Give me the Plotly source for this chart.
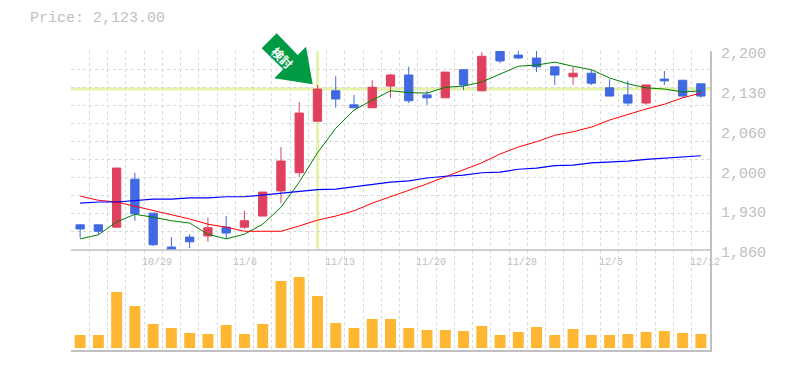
import plotly.graph_objects as go

idx = list(range(35))
date_positions = [4, 9, 14, 19, 24, 29, 34]
date_labels = ["10/29", "11/6", "11/13", "11/20", "11/28", "12/5", "12/12"]
price_ticks = [1860, 1928, 1996, 2064, 2132, 2200]
price_labels = ["1,860", "1,930", "2,000", "2,060", "2,130", "2,200"]

opens = [1903,1903,1899,1981,1923,1865,1882,1884,1899,1899,1918,1961,1992,2080,2132,2108,2103,2140,
         2159,2125,2120,2168,2132,2200,2193,2188,2173,2156,2162,2137,2125,2111,2152,2150,2144]
highs = [1904,1903,2000,1992,1923,1882,1887,1915,1918,1927,1959,2036,2113,2142,2157,2125,2150,2161,
         2173,2132,2164,2168,2198,2200,2202,2202,2173,2173,2168,2152,2149,2142,2166,2150,2144]
lows = [1881,1886,1899,1910,1867,1860,1863,1874,1879,1896,1918,1940,1985,2080,2103,2103,2103,2120,
        2111,2108,2120,2133,2132,2179,2186,2164,2142,2142,2142,2123,2106,2108,2142,2120,2120]
closes = [1896,1892,2000,1922,1869,1860,1874,1898,1889,1910,1959,2012,2094,2135,2118,2103,2138,2159,
          2115,2120,2164,2142,2191,2183,2188,2173,2159,2162,2145,2123,2111,2142,2149,2123,2123]
ma_short = [1879,1886,1908,1921,1916,1910,1906,1887,1879,1887,1904,1933,1976,2026,2068,2099,2116,2132,
            2129,2128,2138,2140,2147,2161,2174,2176,2181,2174,2168,2154,2144,2137,2135,2130,2132]
ma_mid = [1952,1945,1942,1935,1927,1920,1913,1904,1899,1892,1892,1892,1901,1911,1918,1927,1940,1951,
          1961,1973,1985,1997,2009,2024,2036,2045,2056,2062,2070,2082,2092,2101,2109,2120,2128]
ma_long = [1940,1942,1942,1944,1947,1947,1949,1949,1951,1951,1954,1957,1959,1963,1964,1968,1973,1976,
           1978,1983,1986,1988,1992,1993,1998,2000,2004,2005,2009,2010,2012,2015,2017,2019,2021]
volume = [13,13,56,42,24,20,15,14,23,14,24,67,71,52,25,20,29,29,20,18,18,17,22,13,16,21,13,19,13,13,14,16,17,15,14]

GREY = "#c0c0c0"
GRID = "#d8d8d8"
HILITE = "#e6f5a5"
RED = "#e0405e"
BLUE = "#4169e1"
MONO = "Liberation Mono"
# the page body has an 8px margin, so the figure is offset by that in the window
OFF = 8
L, R, T, B = 71 - OFF, 75, 51 - OFF, 20
W, H = 785 - OFF, 370 - OFF
PW, PH = W - L - R, H - T - B
SPLIT = 100 / PH


def px(x, y):
    return (x - OFF - L) / PW, (H - B - (y - OFF)) / PH


fig = go.Figure()
fig.add_trace(go.Bar(x=idx, y=volume, yaxis="y2", width=0.6, marker=dict(color="#ffb733", line_width=0), hoverinfo="skip"))
fig.add_trace(go.Candlestick(
    x=idx, open=opens, high=highs, low=lows, close=closes, whiskerwidth=0,
    increasing=dict(line=dict(color=RED, width=1), fillcolor=RED),
    decreasing=dict(line=dict(color=BLUE, width=1), fillcolor=BLUE),
))
for vals, col, w in [(ma_short, "#008000", 1), (ma_mid, "#ff0000", 1), (ma_long, "#0000ff", 1.2)]:
    fig.add_trace(go.Scatter(x=idx, y=vals, mode="lines", line=dict(color=col, width=w), hoverinfo="skip"))

shapes = [
    dict(type="line", xref="x", yref="y", x0=-0.5, x1=34.5, y0=closes[13], y1=closes[13],
         line=dict(color=HILITE, width=3), layer="below"),
    dict(type="line", xref="x", yref="y", x0=13, x1=13, y0=1862, y1=2200,
         line=dict(color=HILITE, width=3), layer="below"),
    dict(type="line", xref="paper", yref="paper", x0=0, x1=1, y0=SPLIT, y1=SPLIT,
         line=dict(color=GREY, width=1.5)),
]
arrow = [(261.7, 48.3), (276.7, 33.3), (297.7, 55), (306, 46.7), (312.7, 84.3), (274.3, 78.3), (283.3, 69.3)]
path = "M " + " L ".join("%.4f,%.4f" % px(x, y) for x, y in arrow) + " Z"
shapes.append(dict(type="path", xref="paper", yref="paper", path=path, fillcolor="#009944", line_width=0))

ann = [
    dict(xref="paper", yref="paper", x=px(29, 0)[0], y=px(0, 18)[1], xanchor="left", yanchor="middle",
         text="Price: 2,123.00", showarrow=False, font=dict(family=MONO, size=15, color=GREY), borderpad=0),
    dict(xref="paper", yref="paper", x=px(283, 0)[0], y=px(0, 57)[1], xanchor="center", yanchor="middle",
         text="検討", textangle=45, showarrow=False,
         font=dict(family="Noto Sans CJK JP", size=12, color="white", weight="bold")),
]
for p, t in zip(date_positions, date_labels):
    ann.append(dict(xref="x", yref="paper", x=p, y=px(0, 262)[1], xanchor="left", yanchor="middle", xshift=-12,
                    text=t, showarrow=False, font=dict(family=MONO, size=10, color=GREY), borderpad=0))

fig.update_layout(
    width=W, height=H, margin=dict(l=L, r=R, t=T, b=B, pad=0), paper_bgcolor="white", plot_bgcolor="white",
    showlegend=False, boxgap=0.35, shapes=shapes, annotations=ann, bargap=0.4,
    xaxis=dict(range=[-0.5, 34.5], rangeslider_visible=False, tickmode="array", automargin=False,
               tickvals=[i - 0.5 for i in range(36)], ticktext=[""] * 36, showgrid=True, gridcolor=GRID,
               griddash="3px,3px", gridwidth=1, zeroline=False, showline=True, linecolor=GREY, linewidth=2,
               ticks="", anchor="y2"),
    yaxis=dict(domain=[SPLIT, 1], range=[1860, 2200], side="right", anchor="x", tickmode="array", automargin=False,
               tickvals=price_ticks, ticktext=price_labels, showgrid=False, zeroline=False, showline=True,
               linecolor=GREY, linewidth=2, ticks="", ticklabelshift=2, ticklabelstandoff=6,
               tickfont=dict(family=MONO, size=15, color=GREY),
               minor=dict(tickmode="array", tickvals=[1860 + 340 * i / 11 for i in range(12)], showgrid=True,
                          gridcolor=GRID, griddash="3px,3px", gridwidth=1, ticks="")),
    yaxis2=dict(domain=[0, SPLIT], range=[-2, 98], side="right", anchor="x", showticklabels=False, showgrid=False,
                automargin=False, zeroline=False, showline=True, linecolor=GREY, linewidth=2, ticks=""),
)
fig.write_html("out.html")
